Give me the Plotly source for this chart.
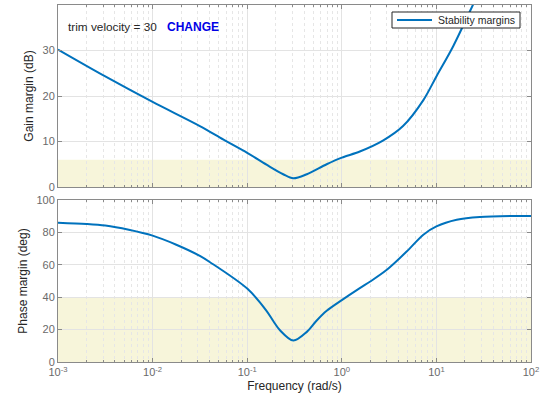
import plotly.graph_objects as go
from plotly.subplots import make_subplots

# ---- data ----
gain_freq = [0.001, 0.00316, 0.01, 0.0316, 0.0562, 0.1, 0.160, 0.240, 0.307,
             0.427, 0.692, 1.0, 1.55, 2.72, 4.44, 7.28, 10.0, 15.1, 26.0, 35.0]
gain_db = [30.2, 24.3, 18.7, 13.4, 10.4, 7.5, 4.9, 2.8, 1.9,
           2.8, 5.0, 6.45, 7.8, 10.2, 13.4, 19.1, 24.3, 31.0, 41.3, 47.0]

phase_freq = [0.001, 0.002, 0.00316, 0.0056, 0.01, 0.0178, 0.0316, 0.0405, 0.1,
              0.160, 0.19, 0.222, 0.307, 0.427, 0.537, 0.692, 1.0, 1.55, 2.0, 2.99, 4.85,
              7.28, 10.0, 16.4, 28.8, 100.0]
phase_deg = [86.0, 85.2, 84.2, 81.6, 78.0, 72.4, 65.5, 61.6, 45.3,
             31.6, 25.0, 19.6, 13.2, 18.6, 25.3, 31.6, 38.2, 45.6, 49.7, 56.9, 68.2,
             78.6, 83.7, 87.8, 89.5, 90.2]

gain_req = 6      # dB, shaded requirement band
phase_req = 40    # deg, shaded requirement band

freq_ticks = [1e-3, 1e-2, 1e-1, 1e0, 1e1, 1e2]
freq_tick_text = ["10<sup>-3</sup>", "10<sup>-2</sup>", "10<sup>-1</sup>",
                  "10<sup>0</sup>", "10<sup>1</sup>", "10<sup>2</sup>"]
gain_ticks = [0, 10, 20, 30, 40]
phase_ticks = [0, 20, 40, 60, 80, 100]

series_name = "Stability margins"
note_text = "trim velocity = 30"
note_flag = "CHANGE"

# minor log ticks 2..9 in each decade
minor_ticks = [m * d for d in freq_ticks[:-1] for m in range(2, 10)]

# ---- figure ----
W, H = 545, 408
ML, MR, MT, MB = 58, 14, 5, 46
plot_h = H - MT - MB
plot_w = W - ML - MR

def py(pix):  # pixel y from top -> paper fraction
    return (H - MB - pix) / plot_h

def px(pix):
    return (pix - ML) / plot_w

fig = make_subplots(rows=2, cols=1, shared_xaxes=True)

line_color = "#0072BD"
fig.add_trace(go.Scatter(x=gain_freq, y=gain_db, mode="lines", name=series_name,
                         line=dict(color=line_color, width=2, shape="spline", smoothing=0.9),
                         showlegend=False), row=1, col=1)
fig.add_trace(go.Scatter(x=phase_freq, y=phase_deg, mode="lines", name=series_name,
                         line=dict(color=line_color, width=2, shape="spline", smoothing=0.9),
                         showlegend=False), row=2, col=1)

shade = "#f7f5da"
fig.add_shape(type="rect", xref="x domain", yref="y", x0=0, x1=1, y0=0, y1=gain_req,
              fillcolor=shade, line_width=0, layer="below")
fig.add_shape(type="rect", xref="x2 domain", yref="y2", x0=0, x1=1, y0=0, y1=phase_req,
              fillcolor=shade, line_width=0, layer="below")

font_fam = "Liberation Sans, Arial, Helvetica, sans-serif"
axis_col = "#8a8a8a"
tick_font = dict(family=font_fam, size=11, color="#6a6a6a")
grid_col = "#e3e3e3"
minor_grid = "#e6e6e6"

xcommon = dict(type="log", range=[-3, 2], tickvals=freq_ticks, ticktext=freq_tick_text,
               showline=True, linecolor=axis_col, linewidth=1, mirror="allticks",
               ticks="inside", ticklen=4, tickcolor=axis_col,
               showgrid=True, gridcolor=grid_col, gridwidth=1,
               minor=dict(tickvals=minor_ticks, ticks="inside", ticklen=2, tickcolor=axis_col,
                          showgrid=True, gridcolor=minor_grid, griddash="dot", gridwidth=1),
               tickfont=tick_font, zeroline=False, automargin=False)

fig.update_xaxes(**xcommon)
fig.update_xaxes(showticklabels=False, row=1, col=1)
fig.update_xaxes(title=dict(text="Frequency (rad/s)", font=dict(family=font_fam, size=12, color="#262626"),
                            standoff=4), row=2, col=1)

ycommon = dict(showline=True, linecolor=axis_col, linewidth=1, mirror="allticks",
               ticks="inside", ticklen=4, tickcolor=axis_col,
               showgrid=True, gridcolor=grid_col, gridwidth=1, zeroline=False,
               tickfont=tick_font, automargin=False)
fig.update_yaxes(**ycommon)
fig.update_yaxes(range=[0, 40], tickvals=gain_ticks,
                 title=dict(text="Gain margin (dB)", font=dict(family=font_fam, size=12, color="#262626"),
                            standoff=6), row=1, col=1)
fig.update_yaxes(range=[0, 100], tickvals=phase_ticks,
                 title=dict(text="Phase margin (deg)", font=dict(family=font_fam, size=12, color="#262626"),
                            standoff=6), row=2, col=1)

fig.update_layout(
    width=W, height=H,
    margin=dict(l=ML, r=MR, t=MT, b=MB, autoexpand=False),
    paper_bgcolor="white", plot_bgcolor="white",
    yaxis=dict(domain=[py(187), 1.0]),
    yaxis2=dict(domain=[0.0, py(200)]),
    showlegend=False,
    font=dict(family=font_fam),
)

# legend box (MATLAB-style compact legend)
fig.add_shape(type="rect", xref="paper", yref="paper", x0=px(392), x1=px(520), y0=py(28), y1=py(12),
              fillcolor="white", line=dict(color="#262626", width=1), layer="above")
fig.add_shape(type="line", xref="paper", yref="paper", x0=px(397), x1=px(432), y0=py(20), y1=py(20),
              line=dict(color=line_color, width=2), layer="above")
fig.add_annotation(xref="paper", yref="paper", x=px(436), y=py(20), xanchor="left", yanchor="middle",
                   text=series_name, showarrow=False,
                   font=dict(family=font_fam, size=10.5, color="#262626"))

fig.add_annotation(xref="paper", yref="paper", x=px(66), y=py(27), xanchor="left", yanchor="middle",
                   text=note_text, showarrow=False,
                   font=dict(family=font_fam, size=11.8, color="#262626"))
fig.add_annotation(xref="paper", yref="paper", x=px(165), y=py(27), xanchor="left", yanchor="middle",
                   text="<b>" + note_flag + "</b>", showarrow=False,
                   font=dict(family=font_fam, size=12, color="#0000e6"))

fig.write_html("out.html", config={"displayModeBar": False},
               post_script="document.body.style.margin='0';document.body.style.overflow='hidden';")
